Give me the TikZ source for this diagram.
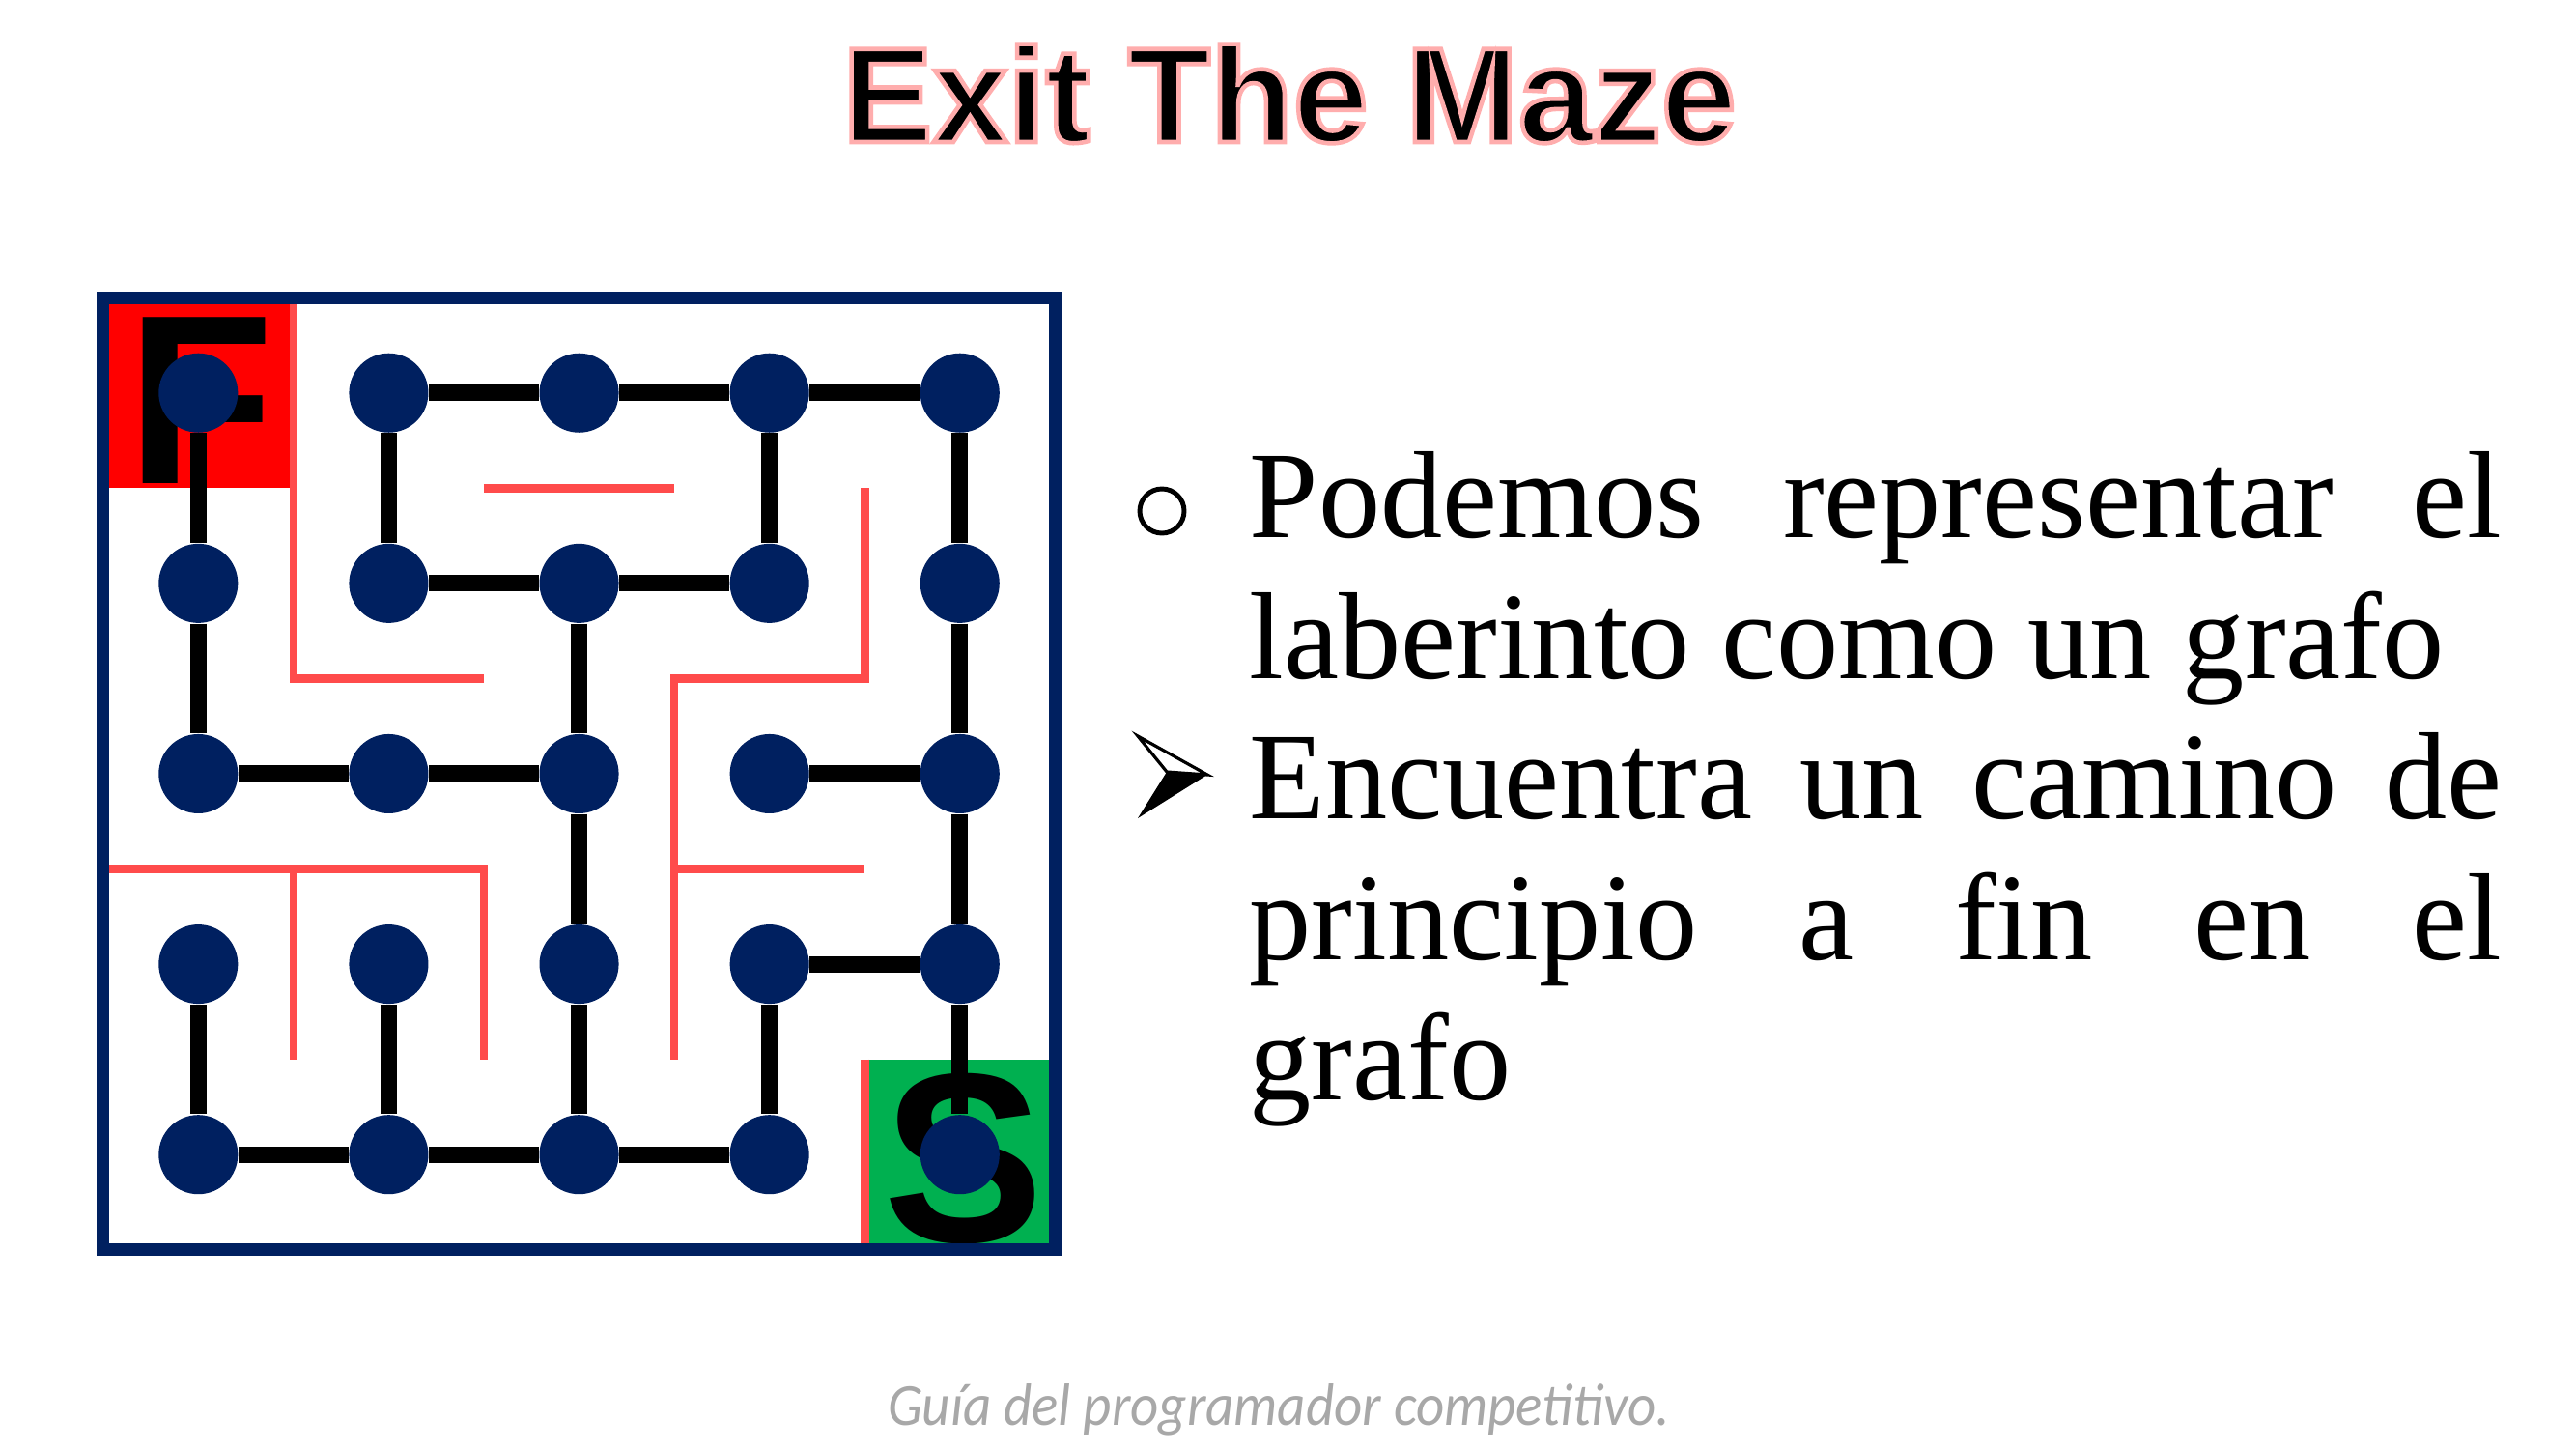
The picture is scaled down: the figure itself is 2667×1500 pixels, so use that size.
\documentclass[tikz,border=0pt]{standalone}
\usepackage{fontspec}
\setmainfont{Liberation Serif}
\newfontfamily\lsans{Liberation Sans}
\newfontfamily\footfont{Carlito}
\definecolor{navy}{HTML}{002060}
\definecolor{wallred}{HTML}{FF4B4B}
\definecolor{mazegreen}{HTML}{00B050}
\definecolor{footgray}{HTML}{A8A8A8}
\begin{document}
\begin{tikzpicture}[x=0.01cm,y=-0.01cm,
  edge/.style={line width=4.84pt, black},
  wall/.style={line width=2.45pt, wallred, line join=miter},
  vert/.style={circle, fill=navy, minimum size=0.82cm, inner sep=0pt},
  frame/.style={line width=3.7pt, navy},
  letter/.style={font=\lsans\bfseries\fontsize{71}{71}\selectfont, inner sep=0pt},
  bodytext/.style={anchor=base west, inner sep=0pt, font=\fontsize{36.5}{41}\selectfont}]
\useasboundingbox[fill=white] (0,0) rectangle (2667,1500);

% ---------- maze ----------
\begin{scope}[xshift=1.067cm, yshift=-3.08cm, x=1.97cm, y=-1.97cm]
  \fill[red] (0,0) rectangle (1,1);
  \fill[mazegreen] (4,4) rectangle (5,5);
  \begin{scope}
    \clip (0,0) rectangle (5,5);
    \node[letter] (F) at (0.51,0.54) {F};
    \node[letter] (S) at (4.52,4.52) {S};
  \end{scope}
  % walls
  \draw[wall] (1,0) -- (1,2) -- (2,2);
  \draw[wall] (2,1) -- (3,1);
  \draw[wall] (4,1) -- (4,2) -- (3,2) -- (3,4);
  \draw[wall] (3,3) -- (4,3);
  \draw[wall] (0,3) -- (2,3) -- (2,4);
  \draw[wall] (1,3) -- (1,4);
  \draw[wall] (4,4) -- (4,5);
  % vertices
  \foreach \c in {0,...,4}{
    \foreach \r in {0,...,4}{
      \node[vert] (n\c\r) at (\c+0.5,\r+0.5) {};
    }
  }
  % horizontal edges
  \foreach \a/\b in {n10/n20, n20/n30, n30/n40, n11/n21, n21/n31, n02/n12, n12/n22,
                     n32/n42, n33/n43, n04/n14, n14/n24, n24/n34}
    \draw[edge] (\a) -- (\b);
  % vertical edges
  \foreach \a/\b in {n00/n01, n10/n11, n30/n31, n40/n41, n01/n02, n21/n22, n41/n42,
                     n22/n23, n42/n43, n03/n04, n13/n14, n23/n24, n33/n34, n43/n44}
    \draw[edge] (\a) -- (\b);
  \draw[frame] (0,0) rectangle (5,5);
\end{scope}

% ---------- bullets ----------
\draw[line width=1.4pt] (1203,529) circle[radius=23];
\coordinate (atl) at (1178,762);
\coordinate (atip) at (1250,802);
\coordinate (abl) at (1178,847);
\coordinate (anotch) at (1208,799);
\fill[black] (anotch) -- (atip) -- (abl) -- cycle;
\draw[line width=0.9pt, line join=miter, fill=white] (atl) -- (atip) -- (anotch) -- cycle;

% ---------- text ----------
\node[bodytext] (l1) at (1293,556) {\makebox[12.96cm][s]{Podemos representar el}};
\node[bodytext] (l2) at (1293,702) {laberinto como un grafo};
\node[bodytext] (l3) at (1293,847) {\makebox[12.96cm][s]{Encuentra un camino de}};
\node[bodytext] (l4) at (1293,993) {\makebox[12.96cm][s]{principio a fin en el}};
\node[bodytext] (l5) at (1293,1138) {grafo};

% ---------- footer ----------
\node[anchor=base, inner sep=0pt, text=footgray,
      font=\footfont\itshape\fontsize{17.6}{18}\selectfont] (foot) at (1324,1475)
  {\scalebox{0.92}[1]{Guía del programador competitivo.}};

% ---------- title ----------
\node[anchor=base, inner sep=0pt, font=\lsans\bfseries\fontsize{39.8}{40}\selectfont] (title) at (1335,147)
  {\special{pdf:code q 2 Tr 1 0.68 0.68 RG 1.3 w}Exit The Maze\special{pdf:code Q}};
\end{tikzpicture}
\end{document}
